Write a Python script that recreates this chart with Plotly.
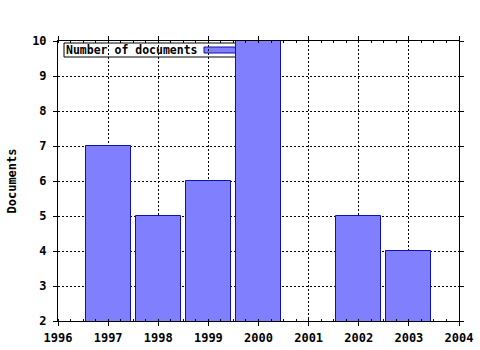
import plotly.graph_objects as go

years = [1997, 1998, 1999, 2000, 2002, 2003]
docs = [7, 5, 6, 10, 5, 4]
series_name = "Number of documents"
y_title = "Documents"

W, H = 480, 350
L, R, T, B = 58, 21, 41, 29
pw, ph = W - L - R, H - T - B

def px(x):
    return (x - L) / pw

def py(y):
    return 1 - (y - T) / ph

FONT = "DejaVu Sans Mono"

fig = go.Figure()
fig.add_trace(go.Bar(
    x=years, y=docs, width=0.9, name=series_name,
    marker=dict(color="#8080ff", line=dict(color="#1010b0", width=1)),
    showlegend=False,
))

axis_common = dict(
    showline=True, linecolor="black", linewidth=1, mirror="ticks",
    showgrid=True, gridcolor="black", griddash="2px,2px", gridwidth=1,
    ticks="outside", ticklen=4, tickcolor="black",
    tickfont=dict(family=FONT, size=12, color="black", weight="bold"),
    zeroline=False, automargin=False,
)

fig.update_xaxes(range=[1996, 2004], dtick=1, tick0=1996, ticklabelstandoff=2,
                 minor=dict(ticks="inside", ticklen=2, dtick=0.25, tickcolor="black", showgrid=False),
                 **axis_common)
fig.update_yaxes(range=[2, 10], dtick=1, tick0=2, ticklabelstandoff=4,
                 title=dict(text=y_title, font=dict(family=FONT, size=12, color="black", weight="bold"), standoff=12),
                 **axis_common)

# legend box drawn behind bars
fig.add_shape(type="rect", xref="paper", yref="paper", layer="between",
              x0=px(64), x1=px(240), y0=py(43), y1=py(57),
              line=dict(color="black", width=1), fillcolor="white")
fig.add_shape(type="rect", xref="paper", yref="paper", layer="between",
              x0=px(204), x1=px(236), y0=py(47), y1=py(53),
              line=dict(color="#1010b0", width=1), fillcolor="#8080ff")
fig.add_annotation(text=series_name, xref="paper", yref="paper",
                   x=px(64), y=py(50), xanchor="left", yanchor="middle",
                   showarrow=False,
                   font=dict(family=FONT, size=11.5, color="black", weight="bold"))

fig.update_layout(
    width=W, height=H,
    margin=dict(l=L, r=R, t=T, b=B),
    paper_bgcolor="white", plot_bgcolor="white",
    bargap=0,
)

fig.write_html("out.html")
